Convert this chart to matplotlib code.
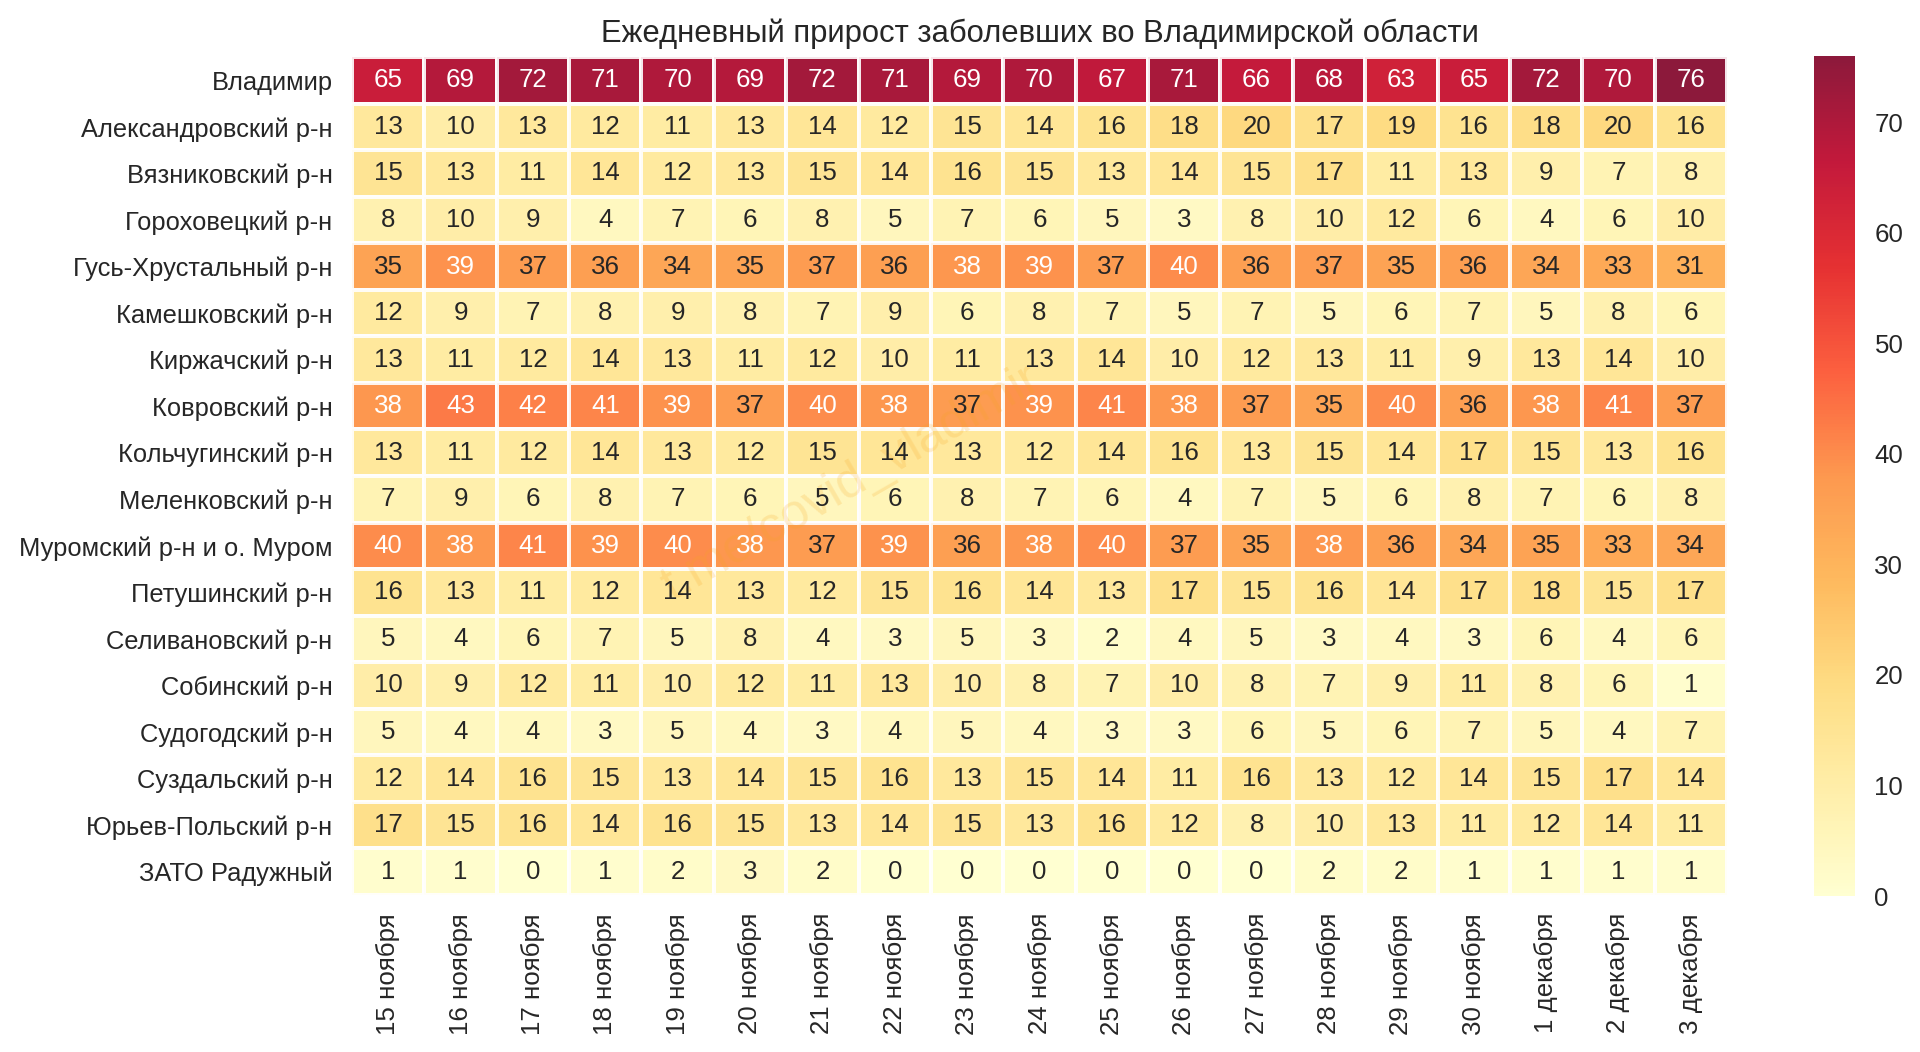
import matplotlib
matplotlib.use("Agg")
import matplotlib.pyplot as plt
import numpy as np

plt.rcParams['font.family'] = ['Liberation Sans', 'DejaVu Sans']

districts = ["Владимир", "Александровский р-н", "Вязниковский р-н", "Гороховецкий р-н",
             "Гусь-Хрустальный р-н", "Камешковский р-н", "Киржачский р-н", "Ковровский р-н",
             "Кольчугинский р-н", "Меленковский р-н", "Муромский р-н и о. Муром",
             "Петушинский р-н", "Селивановский р-н", "Собинский р-н", "Судогодский р-н",
             "Суздальский р-н", "Юрьев-Польский р-н", "ЗАТО Радужный"]

dates = ["15 ноября", "16 ноября", "17 ноября", "18 ноября", "19 ноября", "20 ноября",
         "21 ноября", "22 ноября", "23 ноября", "24 ноября", "25 ноября", "26 ноября",
         "27 ноября", "28 ноября", "29 ноября", "30 ноября", "1 декабря", "2 декабря", "3 декабря"]

vladimir = [65, 69, 72, 71, 70, 69, 72, 71, 69, 70, 67, 71, 66, 68, 63, 65, 72, 70, 76]
aleksandrov = [13, 10, 13, 12, 11, 13, 14, 12, 15, 14, 16, 18, 20, 17, 19, 16, 18, 20, 16]
vyazniki = [15, 13, 11, 14, 12, 13, 15, 14, 16, 15, 13, 14, 15, 17, 11, 13, 9, 7, 8]
gorokhovets = [8, 10, 9, 4, 7, 6, 8, 5, 7, 6, 5, 3, 8, 10, 12, 6, 4, 6, 10]
gus = [35, 39, 37, 36, 34, 35, 37, 36, 38, 39, 37, 40, 36, 37, 35, 36, 34, 33, 31]
kameshkovo = [12, 9, 7, 8, 9, 8, 7, 9, 6, 8, 7, 5, 7, 5, 6, 7, 5, 8, 6]
kirzhach = [13, 11, 12, 14, 13, 11, 12, 10, 11, 13, 14, 10, 12, 13, 11, 9, 13, 14, 10]
kovrov = [38, 43, 42, 41, 39, 37, 40, 38, 37, 39, 41, 38, 37, 35, 40, 36, 38, 41, 37]
kolchugino = [13, 11, 12, 14, 13, 12, 15, 14, 13, 12, 14, 16, 13, 15, 14, 17, 15, 13, 16]
melenki = [7, 9, 6, 8, 7, 6, 5, 6, 8, 7, 6, 4, 7, 5, 6, 8, 7, 6, 8]
murom = [40, 38, 41, 39, 40, 38, 37, 39, 36, 38, 40, 37, 35, 38, 36, 34, 35, 33, 34]
petushki = [16, 13, 11, 12, 14, 13, 12, 15, 16, 14, 13, 17, 15, 16, 14, 17, 18, 15, 17]
selivanovo = [5, 4, 6, 7, 5, 8, 4, 3, 5, 3, 2, 4, 5, 3, 4, 3, 6, 4, 6]
sobinka = [10, 9, 12, 11, 10, 12, 11, 13, 10, 8, 7, 10, 8, 7, 9, 11, 8, 6, 1]
sudogda = [5, 4, 4, 3, 5, 4, 3, 4, 5, 4, 3, 3, 6, 5, 6, 7, 5, 4, 7]
suzdal = [12, 14, 16, 15, 13, 14, 15, 16, 13, 15, 14, 11, 16, 13, 12, 14, 15, 17, 14]
yuryev = [17, 15, 16, 14, 16, 15, 13, 14, 15, 13, 16, 12, 8, 10, 13, 11, 12, 14, 11]
raduzhny = [1, 1, 0, 1, 2, 3, 2, 0, 0, 0, 0, 0, 0, 2, 2, 1, 1, 1, 1]

table = np.array([vladimir, aleksandrov, vyazniki, gorokhovets, gus, kameshkovo, kirzhach,
                  kovrov, kolchugino, melenki, murom, petushki, selivanovo, sobinka,
                  sudogda, suzdal, yuryev, raduzhny])

W, H = 1920, 1052
fig = plt.figure(figsize=(W / 100, H / 100), dpi=100)
ax = fig.add_axes([352 / W, 1 - 895 / H, (1727 - 352) / W, (895 - 57) / H])
cax = fig.add_axes([1814 / W, 1 - 896 / H, (1855 - 1814) / W, (896 - 56) / H])

mesh = ax.pcolormesh(table, cmap="YlOrRd", vmin=0, vmax=table.max(), alpha=0.9,
                     edgecolors="white", linewidth=1.6)
ax.invert_yaxis()
ax.set_xticks(np.arange(len(dates)) + 0.5)
ax.set_xticklabels(dates, rotation=90, fontsize=18.6, color="#262626")
ax.set_yticks(np.arange(len(districts)) + 0.5)
ax.set_yticklabels(districts, fontsize=18.4, color="#262626")
ax.tick_params(length=0, pad=14)
ax.tick_params(axis="x", pad=13)
for spine in ax.spines.values():
    spine.set_visible(False)

for i in range(table.shape[0]):
    for j in range(table.shape[1]):
        val = table[i, j]
        ax.text(j + 0.5, i + 0.5, str(val), ha="center", va="center", fontsize=18.6,
                color="white" if val >= 38 else "#262626", zorder=6)

ax.set_title("Ежедневный прирост заболевших во Владимирской области", fontsize=22.3,
             color="#262626", pad=11)

# watermark
ax.text(6.9, 9.15, "t.me/covid_vladimir", rotation=30, ha="center", va="center", fontsize=36,
        color="#f5a623", alpha=0.2, zorder=5, rotation_mode="anchor")

cbar = fig.colorbar(mesh, cax=cax)
cbar.set_ticks(np.arange(0, 71, 10))
cbar.ax.tick_params(length=0, labelsize=18.6, labelcolor="#262626", pad=14)
cbar.outline.set_visible(False)

fig.savefig("out.png", dpi=100)
